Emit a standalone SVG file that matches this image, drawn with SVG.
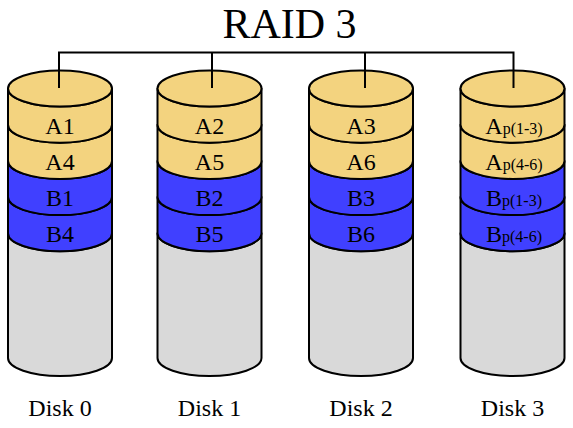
<svg xmlns="http://www.w3.org/2000/svg" width="573" height="428" viewBox="0 0 573 428">
<style>
.s{stroke:#000;stroke-width:2;stroke-linejoin:round}
.y{fill:#F3D37F}
.b{fill:#4040FF}
.g{fill:#D9D9D9}
text{font-family:"Liberation Serif","Times New Roman",serif;fill:#000;text-anchor:middle}
.lbl{font-size:24px}
.sub{font-size:16px}
.title{font-size:42px}
.c{fill:none;stroke:#000;stroke-width:2}
</style>
<defs>
<g id="cyl">
<path class="s g" d="M-52,233.3 L-52,358 A52,18 0 0 0 52,358 L52,233.3 A52,18 0 0 1 -52,233.3 Z"/>
<path class="s b" d="M-52,197.1 L-52,233.3 A52,18 0 0 0 52,233.3 L52,197.1 A52,18 0 0 1 -52,197.1 Z"/>
<path class="s b" d="M-52,160.9 L-52,197.1 A52,18 0 0 0 52,197.1 L52,160.9 A52,18 0 0 1 -52,160.9 Z"/>
<path class="s y" d="M-52,124.7 L-52,160.9 A52,18 0 0 0 52,160.9 L52,124.7 A52,18 0 0 1 -52,124.7 Z"/>
<path class="s y" d="M-52,88.5 L-52,124.7 A52,18 0 0 0 52,124.7 L52,88.5 A52,18 0 0 1 -52,88.5 Z"/>
<ellipse class="s y" cx="0" cy="88.5" rx="52" ry="18"/>
</g>
</defs>
<text class="title" x="289.5" y="37.5">RAID 3</text>
<g id="disk0" transform="translate(60,0)">
<use href="#cyl"/>
<text class="lbl" x="0" y="134">A1</text>
<text class="lbl" x="0" y="170">A4</text>
<text class="lbl" x="0" y="206">B1</text>
<text class="lbl" x="0" y="242">B4</text>
<text class="lbl" x="0" y="415.5">Disk 0</text>
</g>
<g id="disk1" transform="translate(209.5,0)">
<use href="#cyl"/>
<text class="lbl" x="0" y="134">A2</text>
<text class="lbl" x="0" y="170">A5</text>
<text class="lbl" x="0" y="206">B2</text>
<text class="lbl" x="0" y="242">B5</text>
<text class="lbl" x="0" y="415.5">Disk 1</text>
</g>
<g id="disk2" transform="translate(361,0)">
<use href="#cyl"/>
<text class="lbl" x="0" y="134">A3</text>
<text class="lbl" x="0" y="170">A6</text>
<text class="lbl" x="0" y="206">B3</text>
<text class="lbl" x="0" y="242">B6</text>
<text class="lbl" x="0" y="415.5">Disk 2</text>
</g>
<g id="disk3" transform="translate(512.5,0)">
<use href="#cyl"/>
<text class="lbl" x="1.5" y="134">A<tspan class="sub">p(1-3)</tspan></text>
<text class="lbl" x="1.5" y="170">A<tspan class="sub">p(4-6)</tspan></text>
<text class="lbl" x="1.5" y="206">B<tspan class="sub">p(1-3)</tspan></text>
<text class="lbl" x="1.5" y="242">B<tspan class="sub">p(4-6)</tspan></text>
<text class="lbl" x="0" y="415.5">Disk 3</text>
</g>
<g id="connectors">
<path class="c" d="M59,88 V52.5 H513.5 V88 M212,52.5 V88 M365,52.5 V88"/>
</g>
</svg>
